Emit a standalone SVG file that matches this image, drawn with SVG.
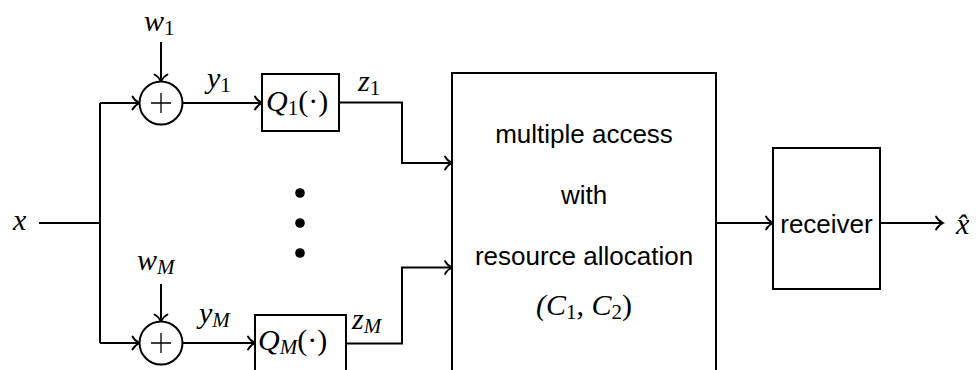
<svg xmlns="http://www.w3.org/2000/svg" width="979" height="370" viewBox="0 0 979 370">
  <defs>
    <marker id="arr" markerUnits="userSpaceOnUse" markerWidth="14" markerHeight="16" viewBox="-9 -8 11 16" refX="0" refY="0" orient="auto" overflow="visible">
      <path d="M-7,-6.5 C-5.5,-3.5 -2.5,-1.2 0,0 C-2.5,1.2 -5.5,3.5 -7,6.5" fill="none" stroke="#000" stroke-width="1.8" stroke-linecap="round"/>
    </marker>
  </defs>
  <style>
    .box { fill: #fff; stroke: #000; stroke-width: 2; }
    .wire { fill: none; stroke: #000; stroke-width: 2; }
    .arrow { marker-end: url(#arr); }
    .plus { stroke: #000; stroke-width: 1.3; }
    .math { font-family: "Liberation Serif", "DejaVu Serif", serif; font-style: italic; font-size: 30px; fill: #000; }
    .up { font-style: normal; }
    .sub { font-style: normal; font-size: 21px; }
    .subi { font-size: 21px; }
    .txt { font-family: "Liberation Sans", Arial, sans-serif; font-size: 26px; fill: #000; text-anchor: middle; }
  </style>

  <!-- connectors -->
  <g id="connectors">
    <!-- input x splits into the two branches -->
    <path class="wire" d="M39,223 H100"/>
    <path class="wire" d="M100,103 V343"/>
    <path class="wire arrow" d="M100,103 H139.5"/>
    <path class="wire arrow" d="M100,343 H139.5"/>
    <!-- noise inputs -->
    <path class="wire arrow" d="M161,42 V81.5"/>
    <path class="wire arrow" d="M161,284 V321.5"/>
    <!-- adders to quantizers -->
    <path class="wire arrow" d="M182.5,103 H262"/>
    <path class="wire arrow" d="M182.5,343 H255"/>
    <!-- quantizers to multiple access block -->
    <path class="wire arrow" d="M339,102.5 H402 V163 H452"/>
    <path class="wire arrow" d="M346,343.5 H402 V267.5 H452"/>
    <!-- to receiver and output -->
    <path class="wire arrow" d="M716,223 H773"/>
    <path class="wire arrow" d="M880,223 H943"/>
  </g>

  <!-- signal labels -->
  <g id="label-x"><text class="math" x="13" y="230">x</text></g>
  <g id="label-w1"><text class="math" x="144" y="31">w<tspan class="sub" dy="4">1</tspan></text></g>
  <g id="label-wM"><text class="math" x="137" y="270">w<tspan class="subi" dy="4">M</tspan></text></g>
  <g id="label-y1"><text class="math" x="207" y="88">y<tspan class="sub" dy="4">1</tspan></text></g>
  <g id="label-yM"><text class="math" x="199" y="323">y<tspan class="subi" dy="4">M</tspan></text></g>
  <g id="label-z1"><text class="math" x="358" y="91">z<tspan class="sub" dy="4">1</tspan></text></g>
  <g id="label-zM"><text class="math" x="352" y="329">z<tspan class="subi" dy="4">M</tspan></text></g>
  <g id="label-xhat"><text class="math" x="956" y="234">x̂</text></g>

  <!-- adder, branch 1 -->
  <g id="sum1">
    <circle class="box" cx="161" cy="103" r="21.5"/>
    <path class="plus" d="M151,103 H171 M161,93 V113"/>
  </g>

  <!-- adder, branch M -->
  <g id="sumM">
    <circle class="box" cx="161" cy="343" r="21.5"/>
    <path class="plus" d="M151,343 H171 M161,333 V353"/>
  </g>

  <!-- quantizer, branch 1 -->
  <g id="q1">
    <rect class="box" x="262" y="74" width="77" height="57"/>
    <text class="math" x="266" y="111">Q<tspan class="sub" dy="4">1</tspan><tspan class="up" dy="-4">(·)</tspan></text>
  </g>

  <!-- quantizer, branch M -->
  <g id="qM">
    <rect class="box" x="255" y="315" width="91" height="60"/>
    <text class="math" x="258" y="350">Q<tspan class="subi" dy="4">M</tspan><tspan class="up" dy="-4">(·)</tspan></text>
  </g>

  <!-- ellipsis between branches -->
  <g id="dots" fill="#000">
    <circle cx="300" cy="193" r="4.8"/>
    <circle cx="300" cy="223" r="4.8"/>
    <circle cx="300" cy="253" r="4.8"/>
  </g>

  <!-- multiple access block -->
  <g id="mac">
    <rect class="box" x="452" y="73" width="264" height="305"/>
    <text class="txt" x="584" y="143">multiple access</text>
    <text class="txt" x="584" y="204">with</text>
    <text class="txt" x="584" y="265">resource allocation</text>
    <text class="math" x="584" y="315" text-anchor="middle">(C<tspan class="sub" dy="4">1</tspan><tspan class="up" dy="-4">, </tspan>C<tspan class="sub" dy="4">2</tspan><tspan class="up" dy="-4">)</tspan></text>
  </g>

  <!-- receiver -->
  <g id="receiver">
    <rect class="box" x="773" y="148" width="107" height="141"/>
    <text class="txt" x="826.5" y="233">receiver</text>
  </g>
</svg>
